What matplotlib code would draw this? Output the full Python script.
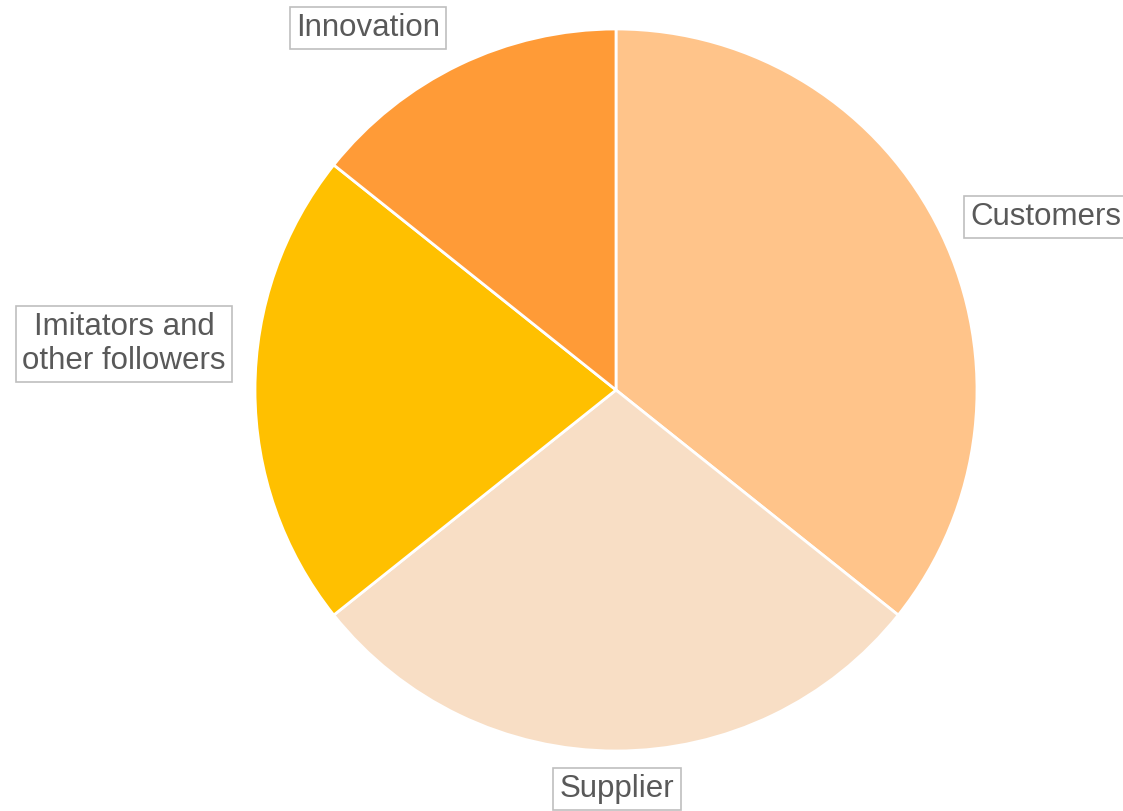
import matplotlib.pyplot as plt

# slice data, clockwise from 12 o'clock
labels = ["Customers", "Supplier", "Imitators and\nother followers", "Innovation"]
values = [5, 4, 3, 2]
colors = ["#FFC48A", "#F8DEC5", "#FFC000", "#FF9B37"]

# label box centres in pixel coordinates (x, y from top)
label_pos = [(1046, 217), (617, 789), (124, 344), (368, 28)]

W, H = 1123, 811
fig = plt.figure(figsize=(W / 100, H / 100), dpi=100)
ax = fig.add_axes([0, 0, 1, 1])
ax.set_xlim(0, W)
ax.set_ylim(0, H)
ax.set_aspect("equal")
ax.axis("off")

ax.pie(values, colors=colors, startangle=90, counterclock=False,
       center=(616, H - 390), radius=361,
       wedgeprops=dict(edgecolor="white", linewidth=2))
ax.set_xlim(0, W)
ax.set_ylim(0, H)

for text, (x, y) in zip(labels, label_pos):
    ax.text(x, H - y, text, ha="center", va="center", fontsize=22.5,
            family="Liberation Sans", color="#595959", linespacing=1.15,
            bbox=dict(boxstyle="square,pad=0.2", facecolor="white",
                      edgecolor="#BFBFBF", linewidth=1.2))

fig.savefig("out.png", dpi=100)
